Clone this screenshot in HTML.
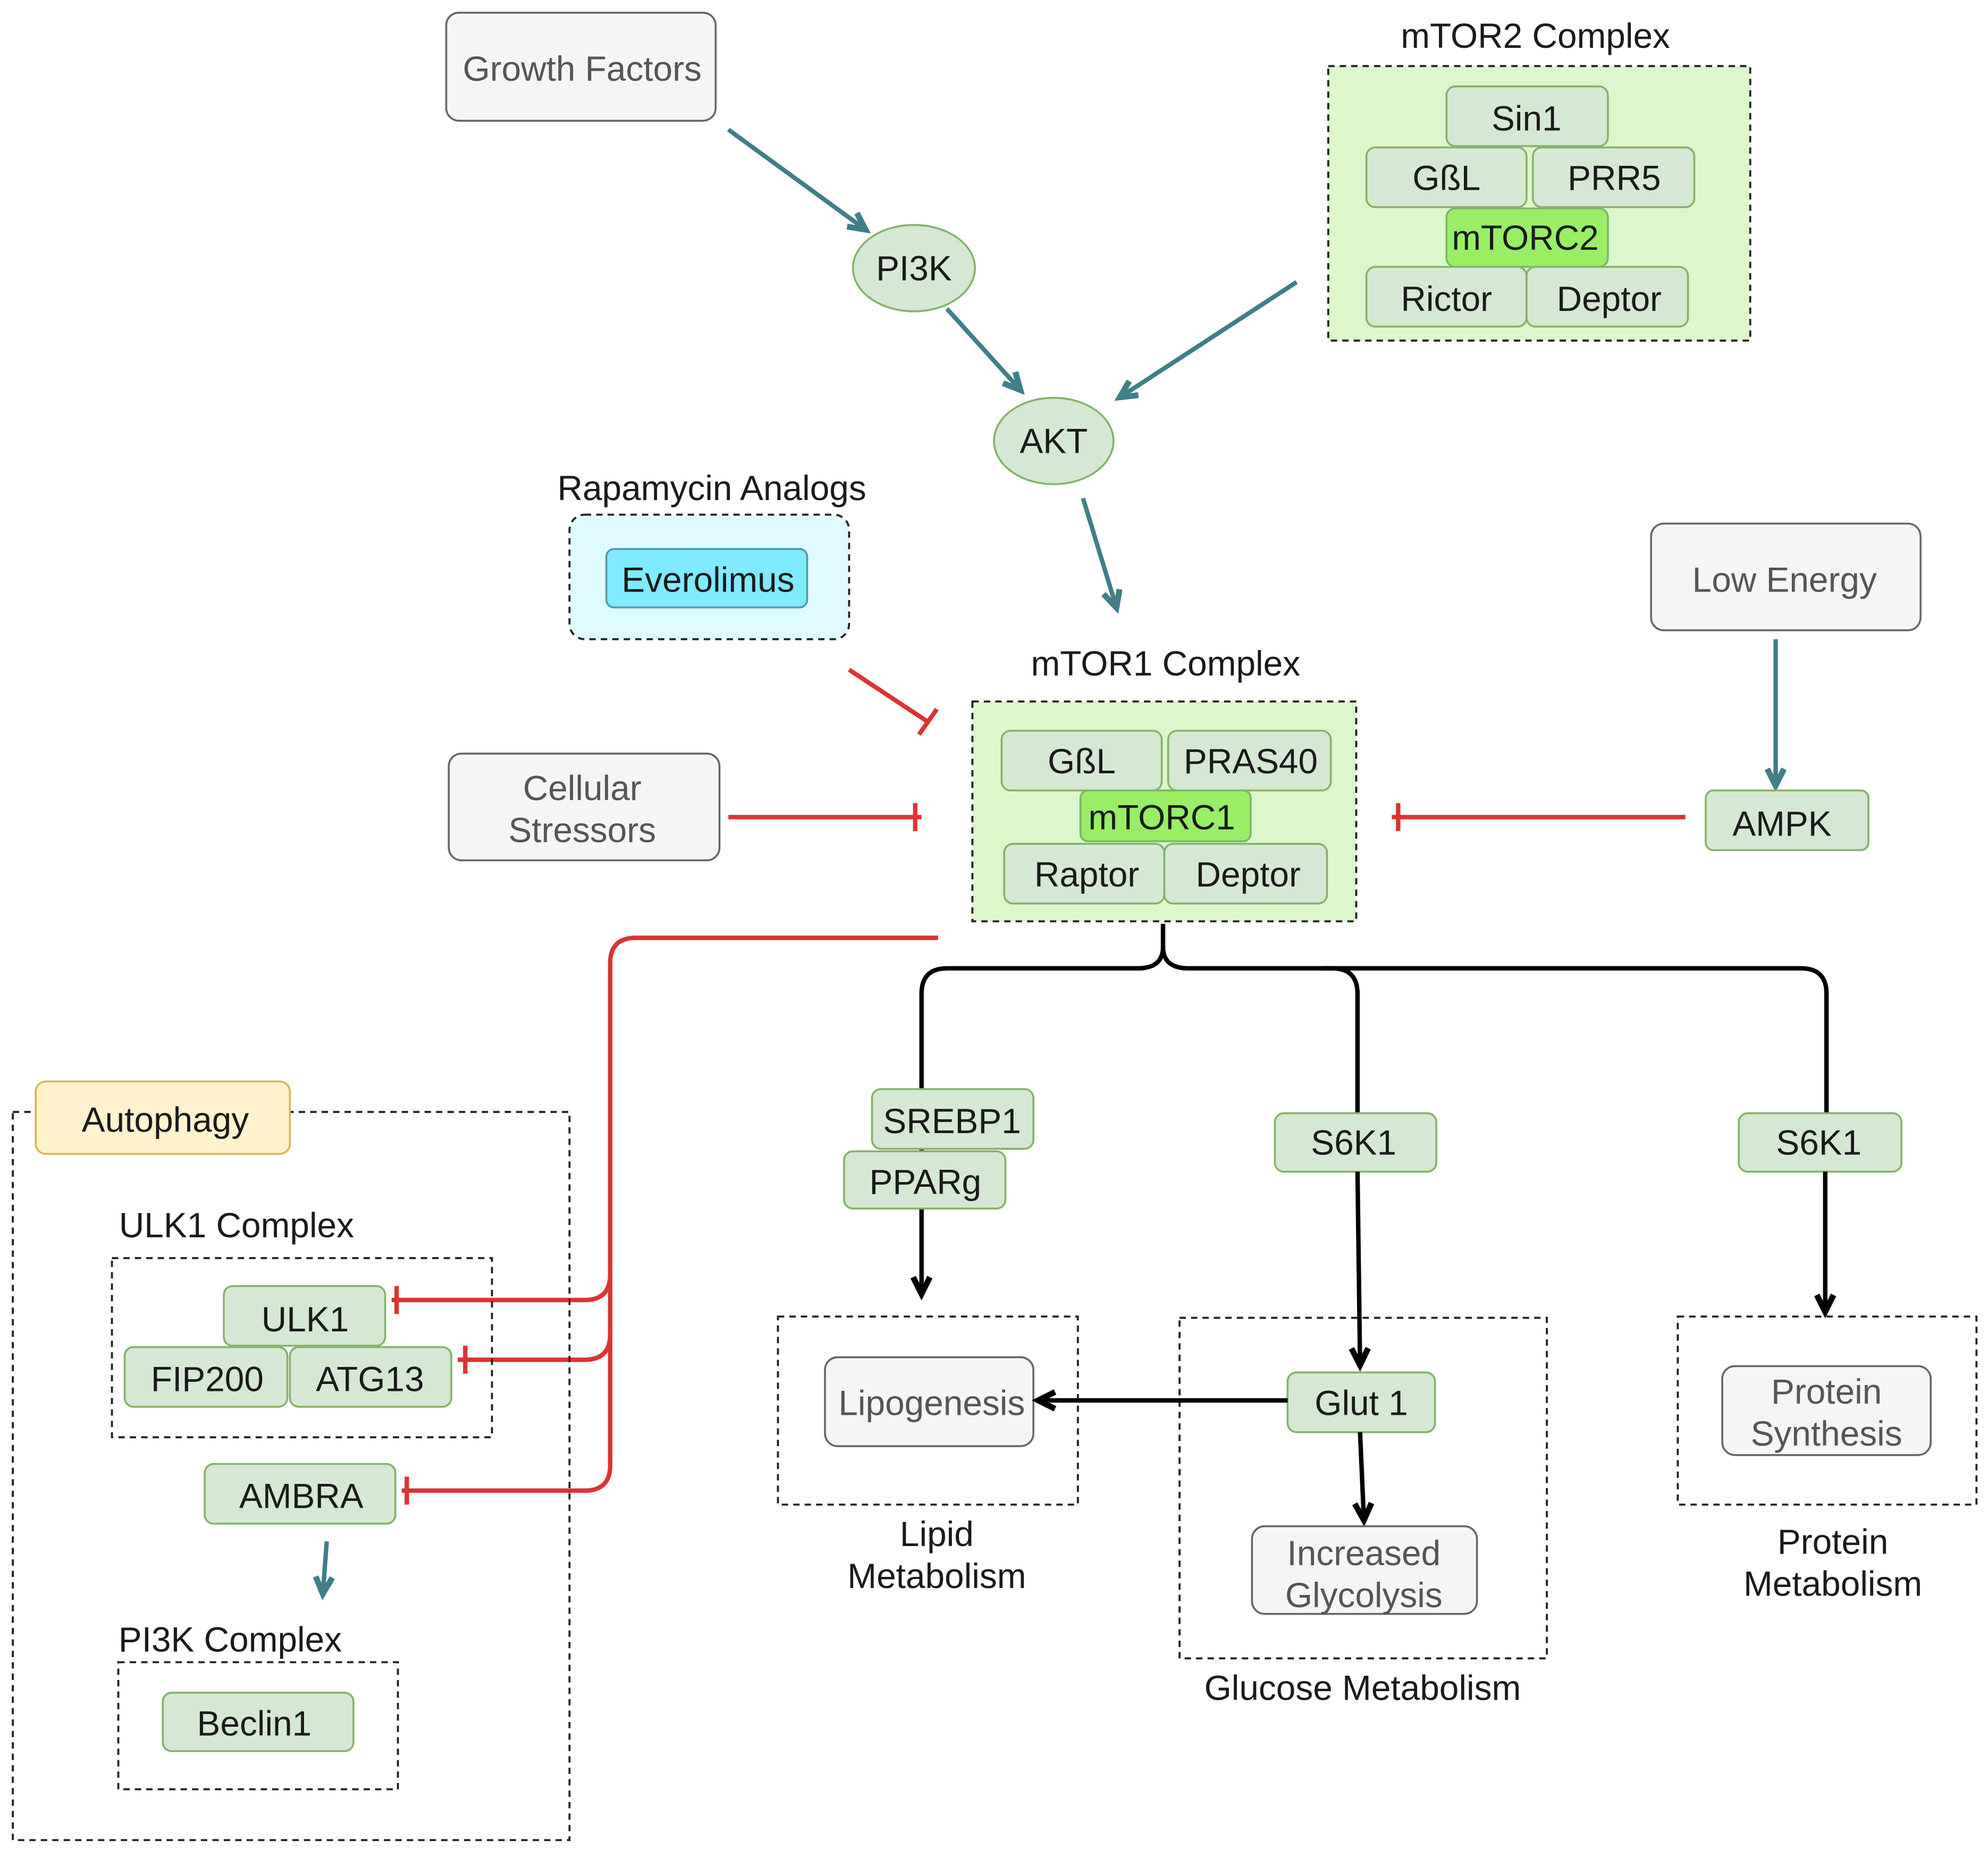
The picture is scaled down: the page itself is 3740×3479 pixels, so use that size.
<!DOCTYPE html>
<html><head><meta charset="utf-8"><style>
html,body{margin:0;padding:0;background:#fff}
svg{display:block}
text{font-family:"Liberation Sans",Arial,sans-serif;font-size:27.5px;text-anchor:middle;dominant-baseline:central;fill:#1a1a1a}
.g{fill:#f5f5f5;stroke:#666;stroke-width:1.5}
.gt{fill:#555}
.n{fill:#d5e8d4;stroke:#82b366;stroke-width:1.5}
.d{fill:none;stroke:#222;stroke-width:1.6;stroke-dasharray:5 4}
.t{stroke:#3f7f88;stroke-width:3.5;fill:none}
.r{stroke:#dd3333;stroke-width:3.5;fill:none}
.k{stroke:#000;stroke-width:3.5;fill:none}
</style></head><body>
<svg width="3740" height="3479" viewBox="0 0 1564 1455" xmlns="http://www.w3.org/2000/svg">
<defs>
<marker id="at" viewBox="0 0 10 10" refX="9" refY="5" markerWidth="6" markerHeight="6" markerUnits="userSpaceOnUse" orient="auto" style="overflow:visible"><path d="M0,0 L10,5 L0,10" fill="none" stroke="#3f7f88" stroke-width="3.5" transform="scale(2.2) translate(-5,-2.7)"/></marker>
<marker id="ak" viewBox="0 0 10 10" refX="9" refY="5" markerWidth="6" markerHeight="6" markerUnits="userSpaceOnUse" orient="auto" style="overflow:visible"><path d="M0,0 L10,5 L0,10" fill="none" stroke="#000" stroke-width="3.5" transform="scale(2.2) translate(-5,-2.7)"/></marker>
</defs>

<rect class="g" x="351" y="10" width="212" height="85" rx="10"/><text class="gt" x="458" y="54">Growth Factors</text>

<text x="1208" y="28">mTOR2 Complex</text>
<rect x="1045" y="52" width="332" height="216" fill="#dcf7cc" stroke="#222" stroke-width="1.6" stroke-dasharray="5 4"/>
<rect class="n" x="1138" y="68" width="127" height="47" rx="7"/><text x="1201" y="93">Sin1</text>
<rect class="n" x="1075" y="116" width="126" height="47" rx="7"/><text x="1138" y="140">GßL</text>
<rect class="n" x="1206" y="116" width="127" height="47" rx="7"/><text x="1270" y="140">PRR5</text>
<rect x="1138" y="164" width="127" height="46" rx="7" fill="#99ee66" stroke="#82b366" stroke-width="1.5"/><text x="1200" y="187">mTORC2</text>
<rect class="n" x="1075" y="210" width="126" height="47" rx="7"/><text x="1138" y="235">Rictor</text>
<rect class="n" x="1201" y="210" width="127" height="47" rx="7"/><text x="1266" y="235">Deptor</text>

<ellipse class="n" cx="719" cy="211" rx="48" ry="34"/><text x="719" y="211">PI3K</text>
<ellipse class="n" cx="829" cy="347" rx="47" ry="34"/><text x="829" y="347">AKT</text>
<line class="t" x1="573" y1="102" x2="680" y2="180" marker-end="url(#at)"/>
<line class="t" x1="745" y1="243" x2="802" y2="306" marker-end="url(#at)"/>
<line class="t" x1="1020" y1="222" x2="882" y2="312" marker-end="url(#at)"/>
<line class="t" x1="852" y1="392" x2="878" y2="477" marker-end="url(#at)"/>

<text x="560" y="384">Rapamycin Analogs</text>
<rect x="448" y="405" width="220" height="98" rx="12" fill="#e0fbff" stroke="#222" stroke-width="1.6" stroke-dasharray="5 4"/>
<rect x="477" y="432" width="158" height="46" rx="6" fill="#80eaff" stroke="#5599aa" stroke-width="1.5"/><text x="557" y="456">Everolimus</text>

<rect class="g" x="1299" y="412" width="212" height="84" rx="10"/><text class="gt" x="1404" y="456">Low Energy</text>
<line class="t" x1="1397" y1="503" x2="1397" y2="617" marker-end="url(#at)"/>
<rect class="n" x="1342" y="622" width="128" height="47" rx="6"/><text x="1402" y="648">AMPK</text>

<text x="917" y="522">mTOR1 Complex</text>
<rect x="765" y="552" width="302" height="173" fill="#dcf7cc" stroke="#222" stroke-width="1.6" stroke-dasharray="5 4"/>
<rect class="n" x="788" y="575" width="126" height="47" rx="7"/><text x="851" y="599">GßL</text>
<rect class="n" x="919" y="575" width="128" height="47" rx="7"/><text x="984" y="599">PRAS40</text>
<rect x="850" y="622" width="134" height="40" rx="6" fill="#99ee66" stroke="#82b366" stroke-width="1.5"/><text x="914" y="643">mTORC1</text>
<rect class="n" x="790" y="664" width="126" height="47" rx="7"/><text x="855" y="688">Raptor</text>
<rect class="n" x="916" y="664" width="128" height="47" rx="7"/><text x="982" y="688">Deptor</text>

<rect class="g" x="353" y="593" width="213" height="84" rx="10"/><text class="gt" x="458" y="620">Cellular</text><text class="gt" x="458" y="653">Stressors</text>

<line class="r" x1="668" y1="527" x2="730" y2="568"/><line class="r" x1="737" y1="558" x2="723" y2="578"/>
<line class="r" x1="573" y1="643" x2="725" y2="643"/><line class="r" x1="720" y1="632" x2="720" y2="654"/>
<line class="r" x1="1326" y1="643" x2="1095" y2="643"/><line class="r" x1="1100" y1="632" x2="1100" y2="654"/>
<path class="r" d="M738,738 H500 Q480,738 480,758 V1153 Q480,1173 460,1173 H316"/>
<path class="r" d="M480,1003 Q480,1023 460,1023 H308"/>
<path class="r" d="M480,1050 Q480,1070 460,1070 H360"/>
<line class="r" x1="312" y1="1012" x2="312" y2="1034"/>
<line class="r" x1="366" y1="1059" x2="366" y2="1081"/>
<line class="r" x1="320" y1="1162" x2="320" y2="1184"/>

<path class="k" d="M915,727 V745 Q915,762 895,762 H745 Q725,762 725,782 V1017" marker-end="url(#ak)"/>
<path class="k" d="M915,745 Q915,762 935,762 H1048 Q1068,762 1068,782 V876"/>
<path class="k" d="M1040,762 H1417 Q1437,762 1437,782 V876"/>
<rect class="n" x="686" y="857" width="127" height="47" rx="7"/><text x="749" y="882">SREBP1</text>
<rect class="n" x="664" y="906" width="127" height="45" rx="7"/><text x="728" y="930">PPARg</text>
<rect class="n" x="1003" y="876" width="127" height="46" rx="7"/><text x="1065" y="899">S6K1</text>
<rect class="n" x="1368" y="876" width="128" height="46" rx="7"/><text x="1431" y="899">S6K1</text>
<line class="k" x1="1068" y1="922" x2="1070" y2="1073" marker-end="url(#ak)"/>
<line class="k" x1="1436" y1="922" x2="1436" y2="1031" marker-end="url(#ak)"/>

<rect class="d" x="612" y="1036" width="236" height="148"/>
<rect class="g" x="649" y="1068" width="164" height="70" rx="10"/><text class="gt" x="733" y="1104">Lipogenesis</text>
<text x="737" y="1207">Lipid</text><text x="737" y="1240">Metabolism</text>

<rect class="d" x="928" y="1037" width="289" height="268"/>
<rect class="n" x="1013" y="1080" width="116" height="47" rx="7"/><text x="1071" y="1104">Glut 1</text>
<line class="k" x1="1013" y1="1102" x2="818" y2="1102" marker-end="url(#ak)"/>
<line class="k" x1="1070" y1="1127" x2="1073" y2="1195" marker-end="url(#ak)"/>
<rect class="g" x="985" y="1201" width="177" height="69" rx="10"/><text class="gt" x="1073" y="1222">Increased</text><text class="gt" x="1073" y="1255">Glycolysis</text>
<text x="1072" y="1328">Glucose Metabolism</text>

<rect class="d" x="1320" y="1036" width="235" height="148"/>
<rect class="g" x="1355" y="1075" width="164" height="70" rx="10"/><text class="gt" x="1437" y="1095">Protein</text><text class="gt" x="1437" y="1128">Synthesis</text>
<text x="1442" y="1213">Protein</text><text x="1442" y="1246">Metabolism</text>

<rect class="d" x="10" y="875" width="438" height="573"/>
<rect x="28" y="851" width="200" height="57" rx="8" fill="#fff2cc" stroke="#d6b656" stroke-width="1.5"/><text x="130" y="881">Autophagy</text>
<text x="186" y="964">ULK1 Complex</text>
<rect class="d" x="88" y="990" width="299" height="141"/>
<rect class="n" x="176" y="1012" width="127" height="47" rx="7"/><text x="240" y="1038">ULK1</text>
<rect class="n" x="98" y="1060" width="128" height="47" rx="7"/><text x="163" y="1085">FIP200</text>
<rect class="n" x="228" y="1060" width="127" height="47" rx="7"/><text x="291" y="1085">ATG13</text>
<rect class="n" x="161" y="1152" width="150" height="47" rx="7"/><text x="237" y="1177">AMBRA</text>
<line class="t" x1="257" y1="1213" x2="254" y2="1253" marker-end="url(#at)"/>
<text x="181" y="1290">PI3K Complex</text>
<rect class="d" x="93" y="1308" width="220" height="100"/>
<rect class="n" x="128" y="1332" width="150" height="46" rx="7"/><text x="200" y="1356">Beclin1</text>
</svg>
</body></html>
